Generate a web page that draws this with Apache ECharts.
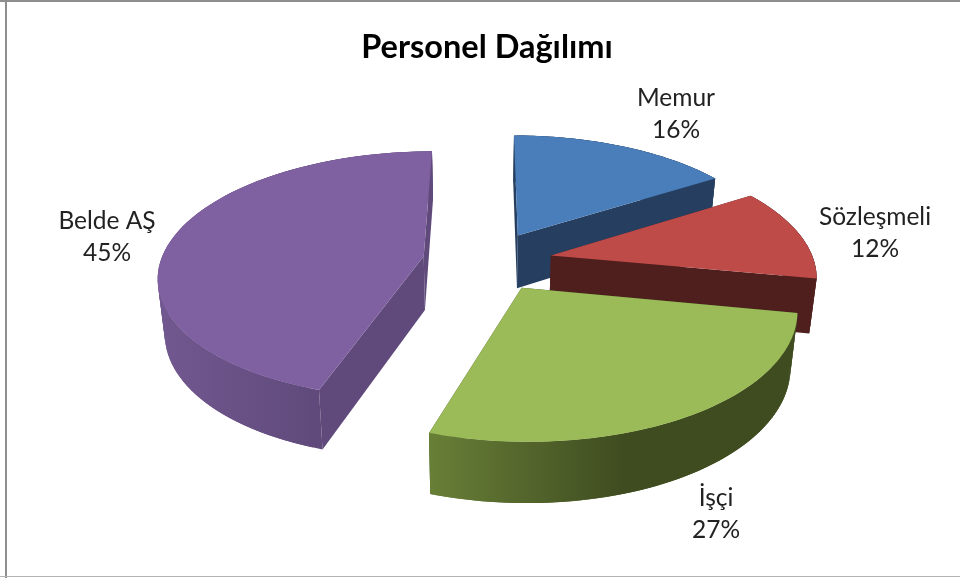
<!DOCTYPE html>
<html>
<head>
<meta charset="utf-8">
<title>Personel Dağılımı</title>
<script src="https://cdn.jsdelivr.net/npm/echarts@6/dist/echarts.min.js"></script>
<style>
    html, body { margin: 0; padding: 0; background: #fff; }
    #chart { width: 960px; height: 578px; }
</style>
</head>
<body>
<div id="chart"></div>
<script>
var titleText = 'Personel Dağılımı';
var categories = ['Memur', 'Sözleşmeli', 'İşçi', 'Belde AŞ'];
var values = [16, 12, 27, 45];

// renk ve etiket yerleri
var topColors = ['#4a7ebb', '#be4b48', '#9bbb59', '#7f60a0'];
var sideColors = ['#263f60', '#4f1f1e', '#3f4c20', '#604a7b'];
var wallStart = ['#263f60', '#4f1f1e', '#687f37', '#725890'];
var wallDarkAt = [1, 1, 0.53, 0.58];
var labelX = [676, 875, 716, 107];
var labelY = [114, 233, 514, 237];

// perspektif pasta
var cx = 487.5, cy = 261, radX = 263, radY = 122, explode = 0.247, persp = 0.15;
var depthBase = 54, depthSlope = 6, vanishX = 480, vanishScale = 0.978;

var total = values.reduce(function (a, b) { return a + b; }, 0);

function topPoint(u, v) {
    var s = 1 / (1 - persp * v);
    return [cx + radX * u * s, cy + radY * v * s];
}
function bottomPoint(u, v) {
    var p = topPoint(u, v);
    return [vanishX + (p[0] - vanishX) * vanishScale, p[1] + depthBase + depthSlope * v];
}
function polygon(points, fill) {
    return { type: 'polygon', shape: { points: points }, style: { fill: fill } };
}

function renderSlice(params, api) {
    var i = params.dataIndex;
    var before = 0;
    for (var k = 0; k < i; k++) before += values[k];
    var a0 = before / total * Math.PI * 2;
    var a1 = (before + api.value(0)) / total * Math.PI * 2;
    var mid = (a0 + a1) / 2;
    var ou = Math.sin(mid) * explode, ov = -Math.cos(mid) * explode;

    var topArc = [], botArc = [];
    var steps = 80;
    var minX = Infinity, maxX = -Infinity;
    for (var n = 0; n <= steps; n++) {
        var a = a0 + (a1 - a0) * n / steps;
        topArc.push(topPoint(ou + Math.sin(a), ov - Math.cos(a)));
        botArc.push(bottomPoint(ou + Math.sin(a), ov - Math.cos(a)));
        minX = Math.min(minX, topArc[n][0]);
        maxX = Math.max(maxX, topArc[n][0]);
    }
    var apexTop = topPoint(ou, ov), apexBot = bottomPoint(ou, ov);

    var wallFill = new echarts.graphic.LinearGradient(minX, 0, maxX, 0, [
        { offset: 0, color: wallStart[i] },
        { offset: wallDarkAt[i], color: sideColors[i] },
        { offset: 1, color: sideColors[i] }
    ], true);

    var children = [
        polygon([apexTop, topArc[0], botArc[0], apexBot], sideColors[i]),
        polygon([apexTop, topArc[steps], botArc[steps], apexBot], sideColors[i])
    ];
    // dis duvar: parcalar ust uste biner, ek yeri cizgi yapmasin
    for (var m = 0; m < steps; m++) {
        var e = Math.min(m + 2, steps);
        children.push(polygon([topArc[m], topArc[e], botArc[e], botArc[m]], wallFill));
    }
    children.push(polygon([apexTop].concat(topArc), topColors[i]));
    children.push({
        type: 'text',
        style: {
            text: categories[i] + '\n' + api.value(0) + '%',
            x: labelX[i],
            y: labelY[i] - 32,
            align: 'center',
            verticalAlign: 'top',
            fill: '#222',
            font: '24.5px Lato',
            lineHeight: 32
        }
    });
    return { type: 'group', children: children };
}

var chart = echarts.init(document.getElementById('chart'), null, { renderer: 'canvas' });
chart.setOption({
    animation: false,
    backgroundColor: '#fff',
    title: {
        text: titleText,
        left: 482,
        top: 26,
        textAlign: 'center',
        textStyle: { fontFamily: 'Lato', fontSize: 32.5, fontWeight: 'bold', color: '#000' }
    },
    xAxis: { show: false, type: 'category', data: categories },
    yAxis: { show: false, type: 'value' },
    graphic: [
        { type: 'rect', shape: { x: 0, y: 0, width: 960, height: 2 }, style: { fill: '#8e8e8e' } },
        { type: 'rect', shape: { x: 5, y: 0, width: 2, height: 578 }, style: { fill: '#8e8e8e' } },
        { type: 'rect', shape: { x: 0, y: 576, width: 960, height: 1 }, style: { fill: '#b4b4b4' } }
    ],
    series: [{
        type: 'custom',
        coordinateSystem: 'none',
        renderItem: renderSlice,
        encode: { value: 0 },
        data: values.map(function (v, i) { return { name: categories[i], value: [v] }; })
    }]
});
</script>
</body>
</html>
